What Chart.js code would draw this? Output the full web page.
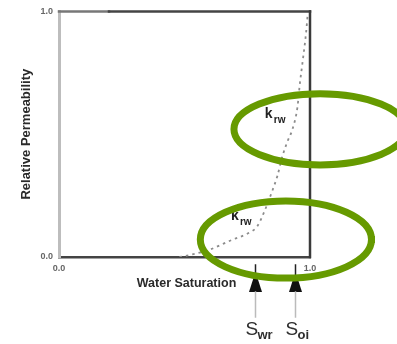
<!DOCTYPE html>
<html>
<head>
<meta charset="utf-8">
<script src="https://cdn.jsdelivr.net/npm/chart.js@4.4.1/dist/chart.umd.min.js"></script>
<style>
  body { margin: 0; background: #fff; }
  #wrap { width: 397px; height: 344px; }
  #chart { filter: blur(0.45px); }
</style>
</head>
<body>
<div id="wrap"><canvas id="chart" width="397" height="344"></canvas></div>
<script>
// water saturation vs relative permeability to water
const waterSaturation = [0.48, 0.53, 0.60, 0.69, 0.75, 0.79, 0.82, 0.85, 0.87, 0.89, 0.91, 0.93, 0.95, 0.96, 0.97, 0.985, 0.99];
const krwValues       = [0.00, 0.01, 0.03, 0.07, 0.095, 0.125, 0.19, 0.27, 0.33, 0.41, 0.47, 0.52, 0.61, 0.71, 0.79, 0.92, 0.98];

const xTickLabels = ['0.0', '1.0'];
const yTickLabels = ['0.0', '1.0'];
const tickValues = [0, 1];

// arrows below the x axis
const arrowSaturation = [0.78, 0.94];
const arrowMain = ['S', 'S'];
const arrowSub = ['wr', 'oi'];

// curve labels inside the circled regions
const curveLabelSw = [0.82, 0.685];
const curveLabelKr = [0.585, 0.17];

// green highlight ellipses: centre (Sw, kr) and radii in axis units
const ellipseSw = [1.04, 0.904];
const ellipseKr = [0.52, 0.071];
const ellipseRx = [0.343, 0.341];
const ellipseRy = [0.145, 0.157];

const FONT = '"Liberation Sans", Arial, sans-serif';

const decorations = {
    id: 'decorations',
    afterDatasetsDraw(chart) {
        const {ctx, chartArea: a, scales: {x, y}} = chart;
        ctx.save();

        // top and right frame lines
        ctx.lineCap = 'square';
        ctx.strokeStyle = '#777';
        ctx.lineWidth = 2.5;
        ctx.beginPath();
        ctx.moveTo(a.left, a.top);
        ctx.lineTo(a.left + 50, a.top);
        ctx.stroke();
        ctx.strokeStyle = '#444';
        ctx.beginPath();
        ctx.moveTo(a.left + 50, a.top);
        ctx.lineTo(a.right, a.top);
        ctx.stroke();
        ctx.strokeStyle = '#3a3a3a';
        ctx.beginPath();
        ctx.moveTo(a.right, a.top);
        ctx.lineTo(a.right, a.bottom);
        ctx.stroke();

        // axis titles
        ctx.fillStyle = '#2a2a2a';
        ctx.font = 'bold 12.5px ' + FONT;
        ctx.textAlign = 'center';
        ctx.textBaseline = 'middle';
        ctx.fillText('Water Saturation', (a.left + a.right) / 2 + 2, 284);
        ctx.save();
        ctx.translate(26, (a.top + a.bottom) / 2);
        ctx.rotate(-Math.PI / 2);
        ctx.font = 'bold 13px ' + FONT;
        ctx.fillText('Relative Permeability', 0, 0);
        ctx.restore();

        // curve labels
        ctx.textAlign = 'left';
        ctx.textBaseline = 'alphabetic';
        curveLabelSw.forEach((sw, i) => {
            const px = x.getPixelForValue(sw);
            const py = y.getPixelForValue(curveLabelKr[i]);
            ctx.fillStyle = '#222';
            ctx.font = 'bold 14px ' + FONT;
            ctx.fillText('k', px, py + 5);
            ctx.font = 'bold 10px ' + FONT;
            ctx.fillText('rw', px + 9, py + 10);
        });

        // arrows and their labels
        arrowSaturation.forEach((sw, i) => {
            const px = Math.round(x.getPixelForValue(sw)) + 0.5;
            ctx.strokeStyle = '#222';
            ctx.lineWidth = 1.5;
            ctx.beginPath();
            ctx.moveTo(px, a.bottom + 8);
            ctx.lineTo(px, a.bottom + 22);
            ctx.stroke();
            ctx.fillStyle = '#111';
            ctx.beginPath();
            ctx.moveTo(px - 2, a.bottom + 21);
            ctx.lineTo(px + 2, a.bottom + 21);
            ctx.lineTo(px + 6.5, a.bottom + 35);
            ctx.lineTo(px - 6.5, a.bottom + 35);
            ctx.closePath();
            ctx.fill();
            ctx.strokeStyle = '#bbb';
            ctx.lineWidth = 1.5;
            ctx.beginPath();
            ctx.moveTo(px, a.bottom + 35);
            ctx.lineTo(px, a.bottom + 60);
            ctx.stroke();

            ctx.fillStyle = '#2e2e2e';
            ctx.font = '19px ' + FONT;
            ctx.fillText(arrowMain[i], px - 10, 335);
            ctx.font = 'bold 13px ' + FONT;
            ctx.fillText(arrowSub[i], px + 2, 339);
        });

        // green highlight ellipses
        ctx.strokeStyle = '#669a00';
        ctx.lineWidth = 7;
        ellipseSw.forEach((sw, i) => {
            const cx = x.getPixelForValue(sw);
            const cy = y.getPixelForValue(ellipseKr[i]);
            const rx = x.getPixelForValue(ellipseRx[i]) - x.getPixelForValue(0);
            const ry = y.getPixelForValue(0) - y.getPixelForValue(ellipseRy[i]);
            ctx.beginPath();
            ctx.ellipse(cx, cy, rx, ry, 0, 0, Math.PI * 2);
            ctx.stroke();
        });

        ctx.restore();
    }
};

new Chart(document.getElementById('chart'), {
    type: 'scatter',
    data: {
        datasets: [{
            data: waterSaturation.map((sw, i) => ({x: sw, y: krwValues[i]})),
            showLine: true,
            borderColor: '#8c8c8c',
            borderWidth: 1.8,
            borderDash: [2.5, 4],
            pointRadius: 0,
            cubicInterpolationMode: 'monotone',
        }]
    },
    options: {
        responsive: false,
        animation: false,
        layout: {padding: {left: 0, top: 9, right: 87, bottom: 0}},
        plugins: {legend: {display: false}, tooltip: {enabled: false}},
        scales: {
            x: {
                type: 'linear',
                min: 0, max: 1,
                afterFit: scale => { scale.height = 87; },
                afterBuildTicks: scale => { scale.ticks = tickValues.map(v => ({value: v})); },
                grid: {display: false, drawTicks: false},
                border: {display: true, color: '#444', width: 2.5},
                ticks: {
                    padding: 6,
                    color: '#666',
                    font: {size: 9, weight: 'bold', family: FONT},
                    callback: (v, i) => xTickLabels[i],
                },
            },
            y: {
                type: 'linear',
                min: 0, max: 1,
                afterFit: scale => { scale.width = 59; },
                afterBuildTicks: scale => { scale.ticks = tickValues.map(v => ({value: v})); },
                grid: {display: false, drawTicks: false},
                border: {display: true, color: '#bdbdbd', width: 3},
                ticks: {
                    padding: 6,
                    color: '#666',
                    font: {size: 9, weight: 'bold', family: FONT},
                    callback: (v, i) => yTickLabels[i],
                },
            },
        },
    },
    plugins: [decorations],
});
</script>
</body>
</html>
